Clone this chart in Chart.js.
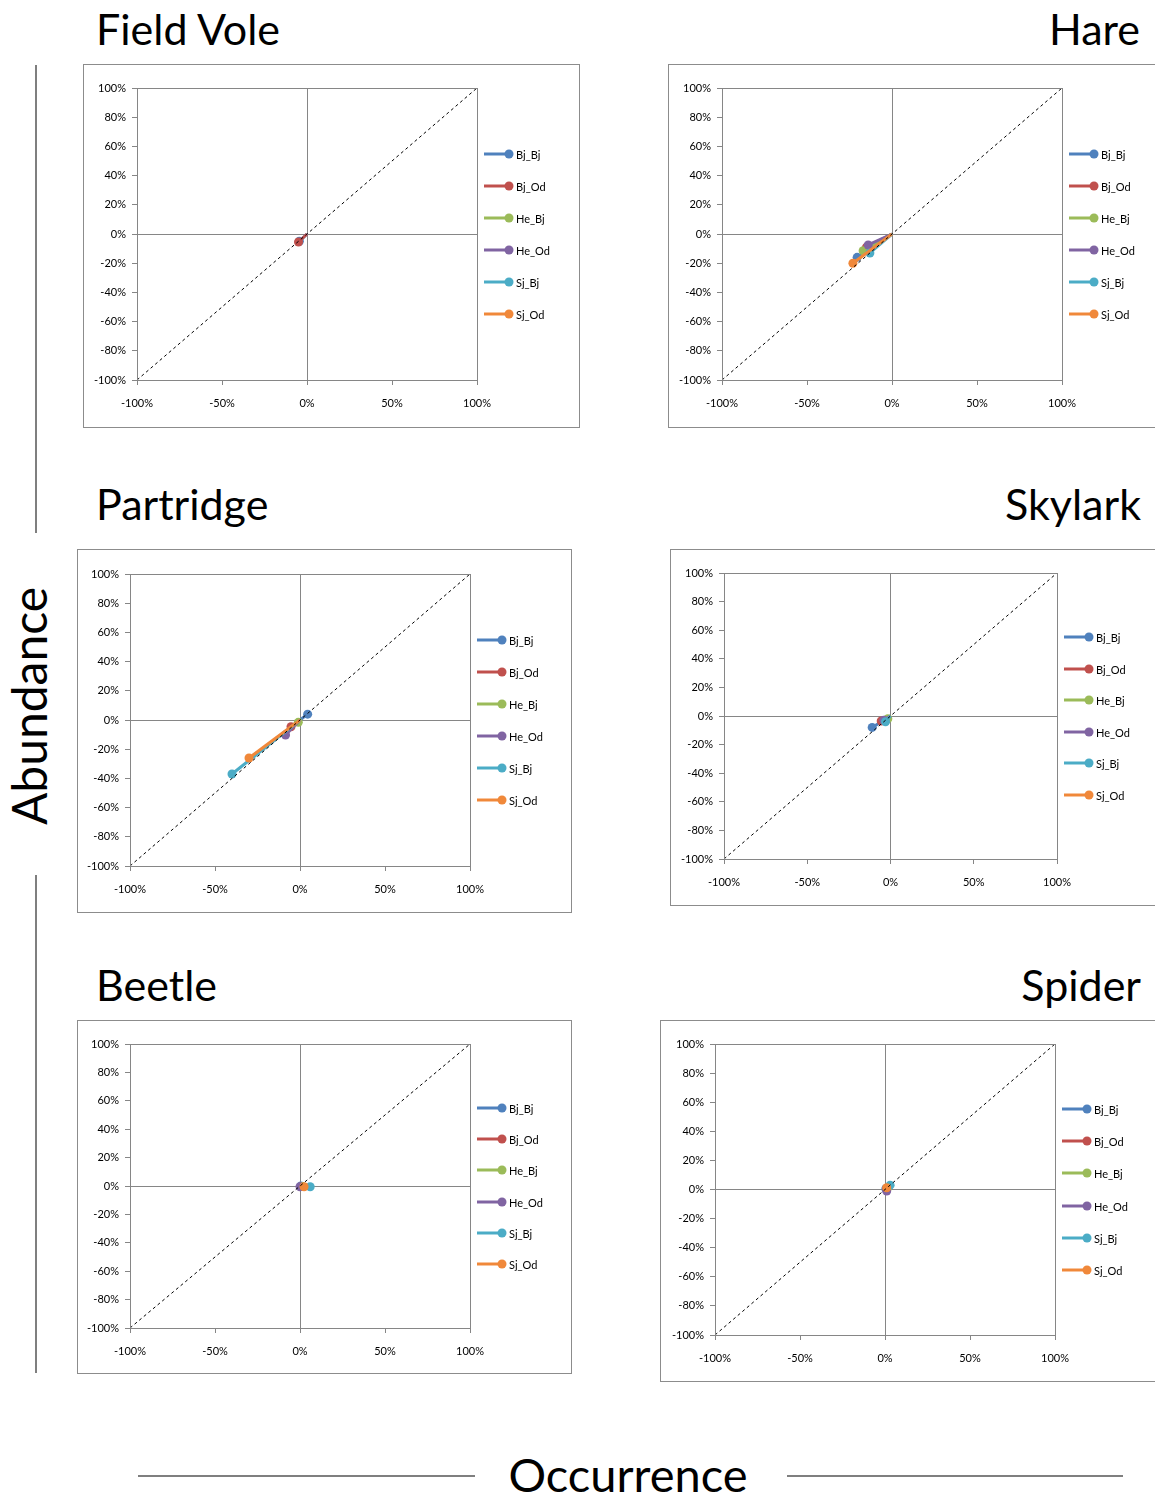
<!DOCTYPE html>
<html>
<head>
<meta charset="utf-8">
<script src="https://cdn.jsdelivr.net/npm/chart.js@4.4.1/dist/chart.umd.min.js"></script>
<style>
  body { margin: 0; width: 1155px; height: 1495px; overflow: hidden; background: #fff; position: relative; font-family: Lato, "Open Sans", sans-serif; }
  .box { position: absolute; border: 1px solid #8c8c8c; box-sizing: border-box; background: #fff; }
  .box canvas { position: absolute; left: 0; top: 0; }
  .title { position: absolute; font-size: 43px; line-height: 1; color: #000; white-space: nowrap; }
  .vline { position: absolute; left: 35px; width: 2px; background: #7f7f7f; }
  .hline { position: absolute; top: 1475px; height: 2px; background: #7f7f7f; }
</style>
</head>
<body>

<div class="title" style="left:96px; top:7px;">Field Vole</div>
<div class="title" style="right:15px; top:7px;">Hare</div>
<div class="title" style="left:96px; top:482px;">Partridge</div>
<div class="title" style="right:14px; top:482px;">Skylark</div>
<div class="title" style="left:96px; top:963px;">Beetle</div>
<div class="title" style="right:14px; top:963px;">Spider</div>

<div class="vline" style="top:65px; height:468px;"></div>
<div class="vline" style="top:875px; height:498px;"></div>
<div style="position:absolute; left:29px; top:706px; transform:translate(-50%,-50%) rotate(-90deg); font-size:48px; line-height:1; white-space:nowrap;">Abundance</div>

<div class="hline" style="left:138px; width:337px;"></div>
<div class="hline" style="left:787px; width:336px;"></div>
<div style="position:absolute; left:628px; top:1451px; transform:translateX(-50%); font-size:47px; line-height:1; white-space:nowrap;">Occurrence</div>

<div id="charts"></div>

<script>
// series (scenario) names and colours
const seriesNames = ["Bj_Bj", "Bj_Od", "He_Bj", "He_Od", "Sj_Bj", "Sj_Od"];
const seriesColors = ["#4F81BD", "#C0504D", "#9BBB59", "#8064A2", "#4BACC6", "#F0883A"];

// tick labels
const xTicks = [-100, -50, 0, 50, 100];
const yTicks = [-100, -80, -60, -40, -20, 0, 20, 40, 60, 80, 100];

// 1:1 reference line
const diagX = [-100, 100];
const diagY = [-100, 100];

// change in occurrence (%) and abundance (%) per scenario, null = not shown
const fieldVoleOcc = [-4.5, -5, null, null, null, null];
const fieldVoleAbund = [-5, -5.5, null, null, null, null];

const hareOcc = [-20.5, -15, -17, -14, -13, -23];
const hareAbund = [-16, -9, -11.5, -7.5, -13, -20];

const partridgeOcc = [4.5, -5.3, -1, -8.5, -40, -30];
const partridgeAbund = [4, -4.6, -1.6, -10.3, -37, -26];

const skylarkOcc = [-11, -5.6, -1.6, -4, -3, null];
const skylarkAbund = [-8, -3.5, -1.9, -3, -4, null];

const beetleOcc = [0.5, 1, 1.5, 0, 6, 2.4];
const beetleAbund = [0, -0.3, -0.3, -0.5, -0.5, -0.5];

const spiderOcc = [0.5, 1, 1.5, 1, 3, 1];
const spiderAbund = [0.5, 0.5, 1, -1, 3, 1.2];

// box = outer frame on the page, plot = plot area on the page
const panels = [
  { occ: fieldVoleOcc, abund: fieldVoleAbund, box: [83, 64, 497, 364], plot: [137, 88, 477, 380] },
  { occ: hareOcc, abund: hareAbund, box: [668, 64, 500, 364], plot: [722, 88, 1062, 380] },
  { occ: partridgeOcc, abund: partridgeAbund, box: [77, 549, 495, 364], plot: [130, 574, 470, 866] },
  { occ: skylarkOcc, abund: skylarkAbund, box: [670, 549, 500, 357], plot: [724, 573, 1057, 859] },
  { occ: beetleOcc, abund: beetleAbund, box: [77, 1020, 495, 354], plot: [130, 1044, 470, 1328] },
  { occ: spiderOcc, abund: spiderAbund, box: [660, 1020, 510, 362], plot: [715, 1044, 1055, 1335] }
];

const axisGrey = "#868686";
const tickFont = { family: "Lato, 'Open Sans', sans-serif", size: 11 };

// frame on top/right of the plot area
const frameRect = {
  id: "frameRect",
  afterDatasetsDraw(chart) {
    const a = chart.chartArea;
    const ctx = chart.ctx;
    ctx.save();
    ctx.strokeStyle = axisGrey;
    ctx.lineWidth = 1;
    ctx.strokeRect(a.left + 0.5, a.top + 0.5, a.right - a.left, a.bottom - a.top);
    ctx.restore();
  }
};

// legend: line with marker on its end, like Excel
const lineLegend = {
  id: "lineLegend",
  afterDraw(chart) {
    const a = chart.chartArea;
    const ctx = chart.ctx;
    const step = (a.bottom - a.top) * 0.11;
    const mid = (a.top + a.bottom) / 2;
    const x0 = a.right + 7;
    ctx.save();
    seriesNames.forEach((name, i) => {
      const y = Math.round(mid + (i - 2.5) * step);
      ctx.strokeStyle = seriesColors[i];
      ctx.lineWidth = 3;
      ctx.beginPath();
      ctx.moveTo(x0, y);
      ctx.lineTo(x0 + 25, y);
      ctx.stroke();
      ctx.fillStyle = seriesColors[i];
      ctx.beginPath();
      ctx.arc(x0 + 25, y, 4.5, 0, Math.PI * 2);
      ctx.fill();
      ctx.fillStyle = "#000";
      ctx.font = "11px Lato, 'Open Sans', sans-serif";
      ctx.textBaseline = "middle";
      ctx.fillText(name, x0 + 32, y + 1);
    });
    ctx.restore();
  }
};

function buildPanel(p) {
  const [bx, by, bw, bh] = p.box;
  const [pl, pt, pr, pb] = p.plot;
  const cx = bx + 1, cy = by + 1, cw = bw - 2, ch = bh - 2;

  const box = document.createElement("div");
  box.className = "box";
  box.style.left = bx + "px";
  box.style.top = by + "px";
  box.style.width = bw + "px";
  box.style.height = bh + "px";
  const canvas = document.createElement("canvas");
  canvas.width = cw;
  canvas.height = ch;
  canvas.style.width = cw + "px";
  canvas.style.height = ch + "px";
  box.appendChild(canvas);
  document.getElementById("charts").appendChild(box);

  const datasets = [{
    label: "diag",
    data: diagX.map((x, i) => ({ x: x, y: diagY[i] })),
    borderColor: "#000",
    borderWidth: 1,
    borderDash: [3, 3],
    pointRadius: 0,
    order: 1
  }];
  seriesNames.forEach((name, i) => {
    if (p.occ[i] === null) return;
    datasets.push({
      label: name,
      data: [{ x: 0, y: 0 }, { x: p.occ[i], y: p.abund[i] }],
      borderColor: seriesColors[i],
      backgroundColor: seriesColors[i],
      borderWidth: 3,
      pointRadius: [0, 4.5],
      pointBorderWidth: 0,
      pointBackgroundColor: seriesColors[i],
      order: 8 - i
    });
  });

  new Chart(canvas.getContext("2d"), {
    type: "scatter",
    data: { datasets: datasets },
    options: {
      responsive: false,
      animation: false,
      showLine: true,
      layout: { padding: { left: 0, top: pt - cy, right: cx + cw - pr, bottom: 0 } },
      plugins: { legend: { display: false }, tooltip: { enabled: false } },
      scales: {
        x: {
          type: "linear",
          min: xTicks[0],
          max: xTicks[xTicks.length - 1],
          afterBuildTicks: s => { s.ticks = xTicks.map(v => ({ value: v })); },
          afterFit: s => { s.height = cy + ch - pb; },
          ticks: { color: "#000", font: tickFont, padding: 12, maxRotation: 0, callback: v => v + "%" },
          grid: {
            color: c => (c.tick && c.tick.value === 0 ? axisGrey : "rgba(0,0,0,0)"),
            tickColor: axisGrey,
            tickLength: 5
          },
          border: { display: true, color: axisGrey }
        },
        y: {
          type: "linear",
          min: yTicks[0],
          max: yTicks[yTicks.length - 1],
          afterBuildTicks: s => { s.ticks = yTicks.map(v => ({ value: v })); },
          afterFit: s => { s.width = pl - cx; },
          ticks: { color: "#000", font: tickFont, padding: 6, callback: v => v + "%" },
          grid: {
            color: c => (c.tick && c.tick.value === 0 ? axisGrey : "rgba(0,0,0,0)"),
            tickColor: axisGrey,
            tickLength: 5
          },
          border: { display: true, color: axisGrey }
        }
      }
    },
    plugins: [frameRect, lineLegend]
  });
}

panels.forEach(buildPanel);
</script>
</body>
</html>
